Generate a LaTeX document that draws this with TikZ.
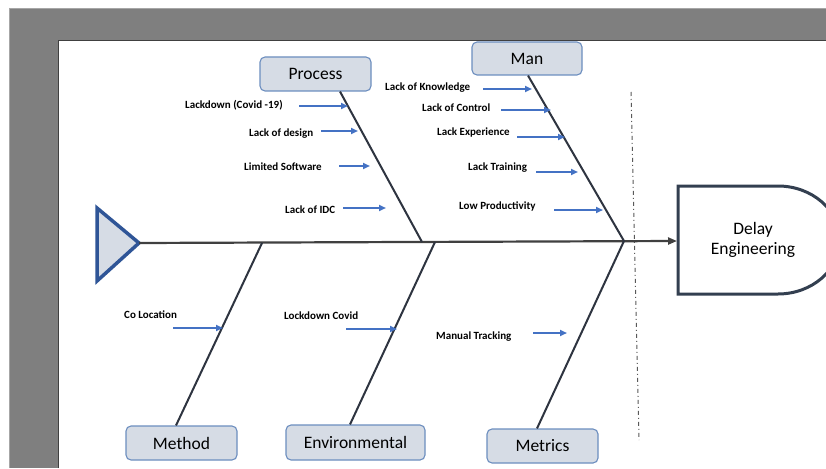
\documentclass[tikz,border=0pt]{standalone}
\usepackage{fontspec}
\setmainfont{Carlito}
\usetikzlibrary{arrows.meta}
\definecolor{boxfill}{HTML}{D6DCE5}
\definecolor{boxline}{HTML}{6C8EBF}
\definecolor{bonec}{HTML}{2E3440}
\definecolor{spinec}{HTML}{404040}
\definecolor{arrowc}{HTML}{4472C4}
\definecolor{tailc}{HTML}{2F5597}
\definecolor{headc}{HTML}{333F50}
\definecolor{pagegray}{HTML}{7F7F7F}
\definecolor{dashc}{HTML}{595959}
\tikzset{
  catbox/.style={draw=boxline, fill=boxfill, rounded corners=5pt, line width=1.1pt,
    inner sep=0pt, font=\fontsize{17.5}{20}\selectfont, text=black},
  cause/.style={anchor=west, inner sep=0pt, font=\bfseries\fontsize{11}{12}\selectfont, text=black},
  causearrow/.style={draw=arrowc, line width=1.8pt, -{Triangle[length=7pt,width=6pt]}},
  bone/.style={draw=bonec, line width=2pt},
}
\begin{document}
\begin{tikzpicture}[x=1pt,y=-1pt]
\useasboundingbox (0,0) rectangle (826,468);
% page background
\fill[white] (0,0) rectangle (826,468);
\fill[pagegray] (9,8) rectangle (826,468);
\draw[black!35, line width=1pt] (9,8.5) -- (826,8.5);
\draw[black!35, line width=1pt] (9.5,8) -- (9.5,468);
\fill[white] (58,40) rectangle (826,468);
\draw[black!75, line width=1.3pt] (58.5,468) -- (58.5,40.5) -- (826,40.5);

% dash-dot separator
\coordinate (sepT) at (631,92);
\coordinate (sepB) at (639,440);
\draw[dashc, line width=1pt, dash pattern=on 4pt off 3pt on 1pt off 3pt] (sepT) -- (sepB);

% head (effect)
\draw[headc, line width=3pt, fill=white] (678,186) -- (778,186)
  .. controls (812,186) and (840,210.2) .. (840,240)
  .. controls (840,269.8) and (812,294) .. (778,294) -- (678,294) -- cycle;
\node[align=center, font=\fontsize{17.5}{20}\selectfont, text=black] (effect) at (753,240) {Delay\\Engineering};

% tail
\coordinate (tailtip) at (139,243);
\draw[tailc, line width=3.5pt, fill=boxfill, line join=miter] (97,208) -- (tailtip) -- (97,281) -- cycle;

% spine
\coordinate (headW) at (677,241);
\draw[spinec, line width=2.2pt, -{Triangle[length=9pt,width=7pt]}] (tailtip) -- (headW);

% category boxes
\node[catbox, minimum width=111pt, minimum height=34pt] (process) at (315.5,74) {Process};
\node[catbox, minimum width=110pt, minimum height=33pt] (man) at (527,58.5) {Man};
\node[catbox, minimum width=111pt, minimum height=34pt] (method) at (181.5,443) {Method};
\node[catbox, minimum width=139pt, minimum height=35pt] (env) at (355.5,442.5) {Environmental};
\node[catbox, minimum width=111pt, minimum height=34pt] (metrics) at (542.5,446) {Metrics};

% junctions on spine
\coordinate (jProc) at (422,242);
\coordinate (jMan) at (624,241);
\coordinate (jMeth) at (262,243);
\coordinate (jEnv) at (435,242);
\coordinate (jMet) at (624,241);

% bones
\draw[bone] ([xshift=24.5pt]process.south) -- (jProc);
\draw[bone] ([xshift=1pt]man.south) -- (jMan);
\draw[bone] ([xshift=-5.5pt]method.north) -- (jMeth);
\draw[bone] ([xshift=-5.5pt]env.north) -- (jEnv);
\draw[bone] ([xshift=-5.5pt]metrics.north) -- (jMet);

% Process causes
\node[cause] (p1) at (185,105) {Lackdown (Covid -19)};
\node[cause] (p2) at (249,134) {Lack of design};
\node[cause] (p3) at (244,167) {Limited Software};
\node[cause] (p4) at (285,210) {Lack of IDC};
\coordinate (p1s) at (299,106); \coordinate (p1e) at (348,106);
\coordinate (p2s) at (321,131); \coordinate (p2e) at (358,131);
\coordinate (p3s) at (339,166); \coordinate (p3e) at (370,166);
\coordinate (p4s) at (343,208); \coordinate (p4e) at (386,208);
\draw[causearrow] (p1s) -- (p1e);
\draw[causearrow] (p2s) -- (p2e);
\draw[causearrow] (p3s) -- (p3e);
\draw[causearrow] (p4s) -- (p4e);

% Man causes
\node[cause] (m1) at (385,88) {Lack of Knowledge};
\node[cause] (m2) at (422,108) {Lack of Control};
\node[cause] (m3) at (437,133) {Lack Experience};
\node[cause] (m4) at (468,168) {Lack Training};
\node[cause] (m5) at (459,206) {Low Productivity};
\coordinate (m1s) at (483,89); \coordinate (m1e) at (532,89);
\coordinate (m2s) at (501,110); \coordinate (m2e) at (551,110);
\coordinate (m3s) at (517,137); \coordinate (m3e) at (565,137);
\coordinate (m4s) at (536,172); \coordinate (m4e) at (578,172);
\coordinate (m5s) at (554,210); \coordinate (m5e) at (603,210);
\draw[causearrow] (m1s) -- (m1e);
\draw[causearrow] (m2s) -- (m2e);
\draw[causearrow] (m3s) -- (m3e);
\draw[causearrow] (m4s) -- (m4e);
\draw[causearrow] (m5s) -- (m5e);

% bottom causes
\node[cause] (b1) at (124,315) {Co Location};
\node[cause] (b2) at (284,316) {Lockdown Covid};
\node[cause] (b3) at (436,337) {Manual Tracking};
\coordinate (b1s) at (173,328); \coordinate (b1e) at (223,328);
\coordinate (b2s) at (346,329); \coordinate (b2e) at (397,329);
\coordinate (b3s) at (533,333); \coordinate (b3e) at (567,333);
\draw[causearrow] (b1s) -- (b1e);
\draw[causearrow] (b2s) -- (b2e);
\draw[causearrow] (b3s) -- (b3e);
\end{tikzpicture}
\end{document}
